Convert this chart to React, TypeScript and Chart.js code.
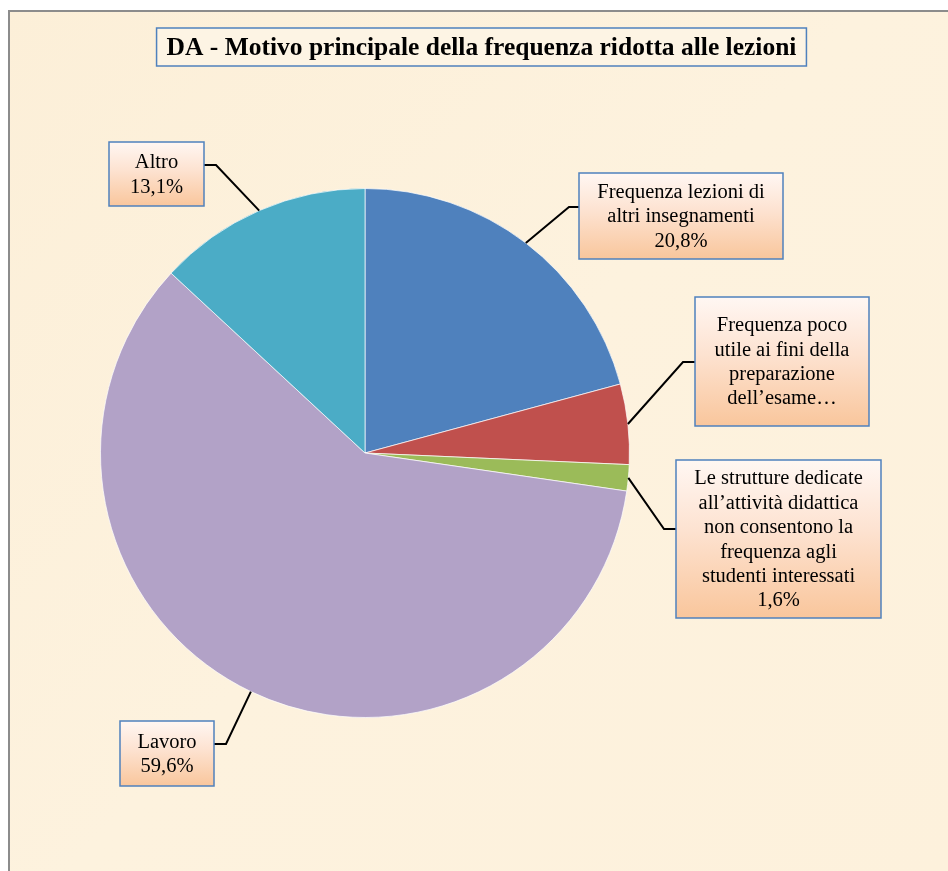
import React, { useEffect, useRef } from 'react';
import { Chart, registerables } from 'chart.js';

Chart.register(...registerables);

const TITLE = 'DA - Motivo principale della frequenza ridotta alle lezioni';

const categories = [
  'Frequenza lezioni di altri insegnamenti',
  'Frequenza poco utile ai fini della preparazione dell’esame',
  'Le strutture dedicate all’attività didattica non consentono la frequenza agli studenti interessati',
  'Lavoro',
  'Altro',
];

const values = [20.8, 4.9, 1.6, 59.6, 13.1];

const labelLines = [
  ['Frequenza lezioni di', 'altri insegnamenti'],
  ['Frequenza poco', 'utile ai fini della', 'preparazione', 'dell’esame…'],
  ['Le strutture dedicate', 'all’attività didattica', 'non consentono la', 'frequenza agli', 'studenti interessati'],
  ['Lavoro'],
  ['Altro'],
];

const showValue = [true, false, true, true, true];

const sliceColors = ['#4f81bd', '#c0504d', '#9bbb59', '#b2a2c7', '#4bacc6'];

// label box layout (positions only)
const boxLayout = [
  { x: 579, y: 173, w: 204, h: 86, elbowX: 569, anchorY: 207, side: 'left' },
  { x: 695, y: 297, w: 174, h: 129, elbowX: 683, anchorY: 362, side: 'left' },
  { x: 676, y: 460, w: 205, h: 158, elbowX: 664, anchorY: 529, side: 'left' },
  { x: 120, y: 721, w: 94, h: 65, elbowX: 226, anchorY: 744, side: 'right' },
  { x: 109, y: 142, w: 95, h: 64, elbowX: 216, anchorY: 165, side: 'right' },
];

const BG = '#fcf1dc';
const LABEL_FONT = '20.5px "Liberation Serif", "Times New Roman", serif';
const TITLE_FONT = 'bold 25.5px "Liberation Serif", "Times New Roman", serif';

const fmt = (v: number) => v.toFixed(1).replace('.', ',') + '%';

const decorPlugin = {
  id: 'decor',
  beforeDraw(chart: any) {
    const ctx = chart.ctx;
    const W = chart.width;
    const H = chart.height;
    ctx.save();
    ctx.fillStyle = '#ffffff';
    ctx.fillRect(0, 0, W, H);
    const g = ctx.createLinearGradient(0, 0, W, H);
    g.addColorStop(0, '#fcefd8');
    g.addColorStop(0.5, '#fdf2de');
    g.addColorStop(1, '#fdf1dc');
    ctx.fillStyle = g;
    ctx.fillRect(9, 11, W - 9, H - 11);
    ctx.strokeStyle = '#8c8c8c';
    ctx.lineWidth = 2;
    ctx.beginPath();
    ctx.moveTo(9, H);
    ctx.lineTo(9, 11);
    ctx.lineTo(W, 11);
    ctx.stroke();

    // title box
    ctx.font = TITLE_FONT;
    const tw = ctx.measureText(TITLE).width;
    const cx = 481.5;
    const bw = tw + 20;
    const bx = cx - bw / 2;
    ctx.fillStyle = '#fdf4e4';
    ctx.fillRect(bx, 28, bw, 38);
    ctx.strokeStyle = '#4f81bd';
    ctx.lineWidth = 1.5;
    ctx.strokeRect(bx, 28, bw, 38);
    ctx.fillStyle = '#000000';
    ctx.textAlign = 'center';
    ctx.textBaseline = 'middle';
    ctx.fillText(TITLE, cx, 48);
    ctx.restore();
  },
  afterDatasetsDraw(chart: any) {
    const ctx = chart.ctx;
    const meta = chart.getDatasetMeta(0);
    ctx.save();
    meta.data.forEach((arc: any, i: number) => {
      const p = arc.getProps(['x', 'y', 'startAngle', 'endAngle', 'outerRadius'], true);
      const mid = (p.startAngle + p.endAngle) / 2;
      const px = p.x + Math.cos(mid) * p.outerRadius;
      const py = p.y + Math.sin(mid) * p.outerRadius;
      const b = boxLayout[i];
      const edgeX = b.side === 'left' ? b.x : b.x + b.w;
      ctx.strokeStyle = '#000000';
      ctx.lineWidth = 2;
      ctx.beginPath();
      ctx.moveTo(px, py);
      ctx.lineTo(b.elbowX, b.anchorY);
      ctx.lineTo(edgeX, b.anchorY);
      ctx.stroke();

      const g = ctx.createLinearGradient(0, b.y, 0, b.y + b.h);
      g.addColorStop(0, '#fff7f3');
      g.addColorStop(0.45, '#fde2d0');
      g.addColorStop(1, '#f9c69c');
      ctx.fillStyle = g;
      ctx.fillRect(b.x, b.y, b.w, b.h);
      ctx.strokeStyle = '#4f81bd';
      ctx.lineWidth = 1.5;
      ctx.strokeRect(b.x, b.y, b.w, b.h);

      const lines = labelLines[i].slice();
      if (showValue[i]) lines.push(fmt(values[i]));
      const lh = 24.4;
      const cy = b.y + b.h / 2;
      const y0 = cy - ((lines.length - 1) * lh) / 2;
      ctx.fillStyle = '#000000';
      ctx.font = LABEL_FONT;
      ctx.textAlign = 'center';
      ctx.textBaseline = 'middle';
      lines.forEach((t: string, k: number) => {
        ctx.fillText(t, b.x + b.w / 2, y0 + k * lh + 1);
      });
    });
    ctx.restore();
  },
};

export default function App() {
  const ref = useRef<HTMLCanvasElement | null>(null);
  useEffect(() => {
    if (!ref.current) return;
    const chart = new Chart(ref.current, {
      type: 'pie',
      data: {
        labels: categories,
        datasets: [
          {
            data: values,
            backgroundColor: sliceColors,
            borderColor: 'rgba(255,255,255,0.7)',
            borderWidth: 1,
          },
        ],
      },
      options: {
        responsive: false,
        animation: false,
        layout: { padding: { left: 100, right: 318, top: 188, bottom: 153 } },
        plugins: {
          legend: { display: false },
          tooltip: { enabled: false },
          title: { display: false },
        },
      },
      plugins: [decorPlugin],
    });
    return () => chart.destroy();
  }, []);
  return (
    <div style={{ position: 'absolute', left: 0, top: 0, width: 948, height: 871 }}>
      <canvas ref={ref} width={948} height={871} style={{ width: 948, height: 871, display: 'block' }} />
    </div>
  );
}
